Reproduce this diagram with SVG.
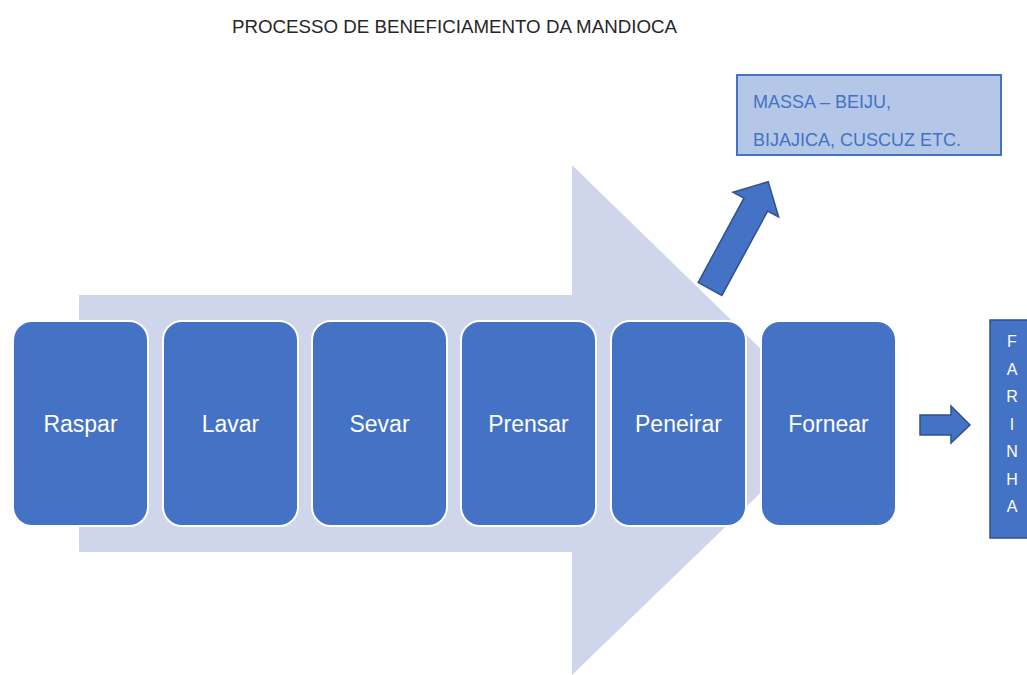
<svg xmlns="http://www.w3.org/2000/svg" width="1027" height="675" viewBox="0 0 1027 675">
<style>
.step{fill:#4472C4;stroke:#FFFFFF;stroke-width:2}
.lbl{font-family:"Liberation Sans",Arial,sans-serif;font-size:23px;fill:#FFFFFF;text-anchor:middle}
.blk{fill:#4472C4;stroke:#2F528F;stroke-width:1.5}
.far{font-family:"Liberation Sans",Arial,sans-serif;font-size:16px;fill:#FFFFFF;text-anchor:middle}
.ms{font-family:"Liberation Sans",Arial,sans-serif;font-size:18px;fill:#4472C4}
</style>
<rect width="1027" height="675" fill="#FFFFFF"/>
<text x="232" y="33" font-family="'Liberation Sans',Arial,sans-serif" font-size="18" fill="#262626" textLength="445" lengthAdjust="spacingAndGlyphs">PROCESSO DE BENEFICIAMENTO DA MANDIOCA</text>
<g id="backarrow">
<polygon points="79,295 572,295 572,165 835,421 572,675 572,552 79,552" fill="#CFD5EA"/>
</g>
<g id="connectors">
<polygon class="blk" transform="translate(710,289) rotate(-61.5)" points="0,-13.5 96,-13.5 96,-26 122,0 96,26 96,13.5 0,13.5"/>
<polygon class="blk" points="920,415 951,415 951,406 970,425 951,443 951,435 920,435"/>
</g>
<g id="raspar"><rect class="step" x="13" y="321" width="135" height="205" rx="19"/><text class="lbl" x="80.5" y="432">Raspar</text></g>
<g id="lavar"><rect class="step" x="163" y="321" width="135" height="205" rx="19"/><text class="lbl" x="230.5" y="432">Lavar</text></g>
<g id="sevar"><rect class="step" x="312" y="321" width="135" height="205" rx="19"/><text class="lbl" x="379.5" y="432">Sevar</text></g>
<g id="prensar"><rect class="step" x="461" y="321" width="135" height="205" rx="19"/><text class="lbl" x="528.5" y="432">Prensar</text></g>
<g id="peneirar"><rect class="step" x="611" y="321" width="135" height="205" rx="19"/><text class="lbl" x="678.5" y="432">Peneirar</text></g>
<g id="fornear"><rect class="step" x="761" y="321" width="135" height="205" rx="19"/><text class="lbl" x="828.5" y="432">Fornear</text></g>
<g id="massa">
<rect x="737" y="75" width="264" height="80" fill="#B4C7E7" stroke="#4472C4" stroke-width="2"/>
<text class="ms" x="753" y="108">MASSA – BEIJU,</text>
<text class="ms" x="753" y="146">BIJAJICA, CUSCUZ ETC.</text>
</g>
<g id="farinha">
<rect class="blk" x="990" y="320" width="45" height="218"/>
<text class="far" x="1012" y="347">F</text>
<text class="far" x="1012" y="375">A</text>
<text class="far" x="1012" y="402">R</text>
<text class="far" x="1012" y="430">I</text>
<text class="far" x="1012" y="457">N</text>
<text class="far" x="1012" y="485">H</text>
<text class="far" x="1012" y="512">A</text>
</g>
</svg>
